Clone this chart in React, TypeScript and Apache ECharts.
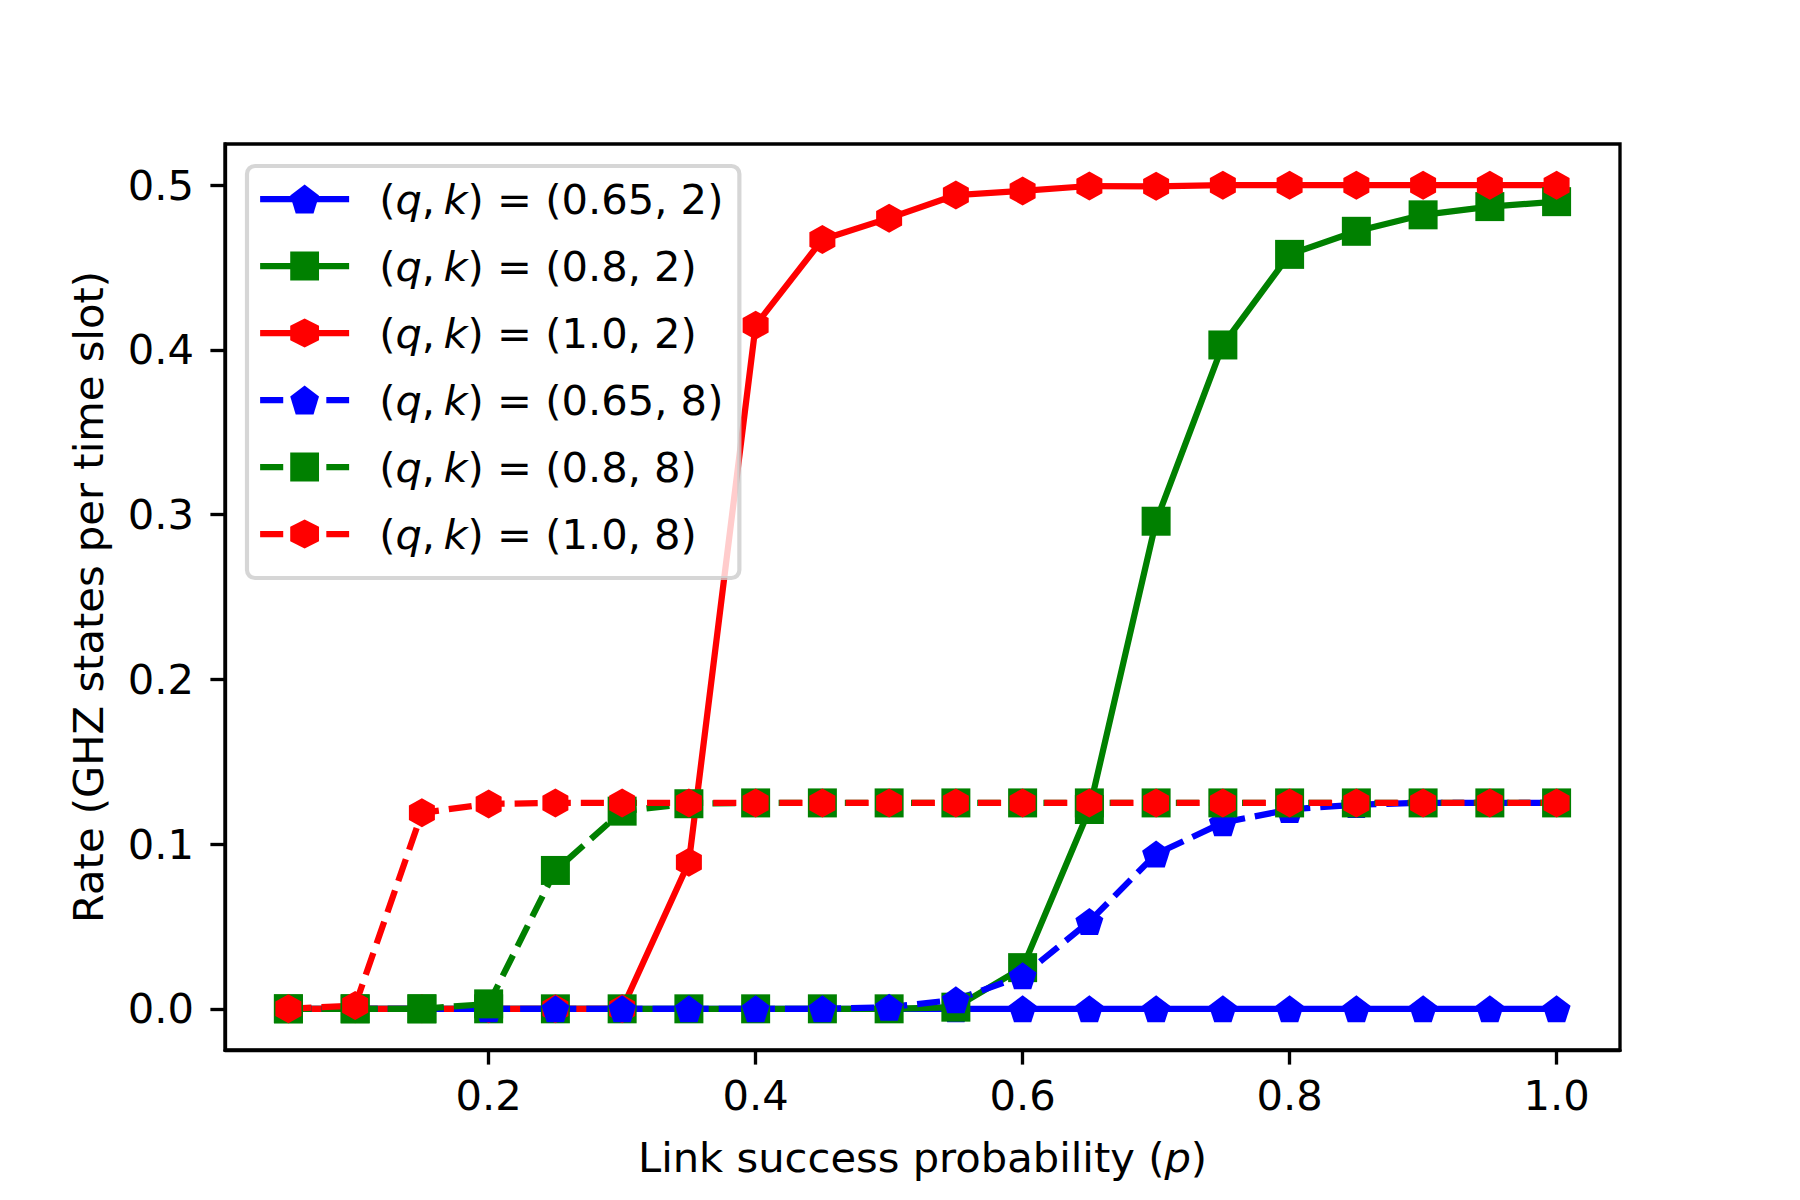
import React, { useEffect, useRef } from "react";
import * as echarts from "echarts";

const P = [0.05, 0.1, 0.15, 0.2, 0.25, 0.3, 0.35, 0.4, 0.45, 0.5, 0.55, 0.6, 0.65, 0.7, 0.75, 0.8, 0.85, 0.9, 0.95, 1.0];
const BLUE_K2 = [0, 0, 0, 0, 0, 0, 0, 0, 0, 0, 0, 0, 0, 0, 0, 0, 0, 0, 0, 0];
const GREEN_K2 = [0, 0, 0, 0, 0, 0, 0, 0, 0, 0, 0.001, 0.025, 0.121, 0.296, 0.403, 0.458, 0.472, 0.482, 0.487, 0.49];
const RED_K2 = [0, 0, 0, 0, 0, 0, 0.089, 0.415, 0.467, 0.48, 0.494, 0.4965, 0.4995, 0.4993, 0.5, 0.5, 0.5, 0.5, 0.5, 0.5];
const BLUE_K8 = [0, 0, 0, 0, 0, 0, 0, 0, 0, 0.001, 0.0055, 0.02, 0.053, 0.094, 0.113, 0.121, 0.124, 0.125, 0.125, 0.125];
const GREEN_K8 = [0, 0, 0, 0.003, 0.084, 0.12, 0.1245, 0.125, 0.125, 0.125, 0.125, 0.125, 0.125, 0.125, 0.125, 0.125, 0.125, 0.125, 0.125, 0.125];
const RED_K8 = [0, 0.002, 0.119, 0.1244, 0.125, 0.125, 0.125, 0.125, 0.125, 0.125, 0.125, 0.125, 0.125, 0.125, 0.125, 0.125, 0.125, 0.125, 0.125, 0.125];

const NAMES = ["(q, k) = (0.65, 2)", "(q, k) = (0.8, 2)", "(q, k) = (1.0, 2)", "(q, k) = (0.65, 8)", "(q, k) = (0.8, 8)", "(q, k) = (1.0, 8)"];
const X_TICKS = [0.2, 0.4, 0.6, 0.8, 1.0];
const Y_TICKS = [0, 0.1, 0.2, 0.3, 0.4, 0.5];

const PENTAGON = "path://M0,-1L-0.951,-0.309L-0.588,0.809L0.588,0.809L0.951,-0.309Z";
const HEXAGON = "path://M0,-1L-0.866,-0.5L-0.866,0.5L0,1L0.866,0.5L0.866,-0.5Z";

const FONT = "DejaVu Sans";
const FS = 41.67;
const LW = 6.25;
const DASH = [23.1, 10];

export default function App() {
  const ref = useRef<HTMLDivElement>(null);
  useEffect(() => {
    if (!ref.current) return;
    const chart = echarts.init(ref.current, null, { renderer: "svg" });
    const mk = (name: string, ys: number[], color: string, symbol: string, size: any, dashed: boolean) => ({
      name,
      type: "line",
      data: P.map((x, i) => [x, ys[i]]),
      symbol,
      symbolSize: size,
      showSymbol: true,
      lineStyle: { color, width: LW, type: dashed ? DASH : "solid", cap: "butt", join: "round" },
      itemStyle: { color },
      emphasis: { disabled: true },
    });
    const series = [
      mk(NAMES[0], BLUE_K2, "#0000ff", PENTAGON, [28, 27], false),
      mk(NAMES[1], GREEN_K2, "#008000", "rect", 29, false),
      mk(NAMES[2], RED_K2, "#ff0000", HEXAGON, [26, 29], false),
      mk(NAMES[3], BLUE_K8, "#0000ff", PENTAGON, [28, 27], true),
      mk(NAMES[4], GREEN_K8, "#008000", "rect", 29, true),
      mk(NAMES[5], RED_K8, "#ff0000", HEXAGON, [26, 29], true),
    ];
    const axisCommon = {
      axisLine: { show: true, onZero: false, lineStyle: { color: "#000", width: 3.33 } },
      axisTick: { show: true, inside: false, length: 14.6, lineStyle: { color: "#000", width: 3.33 } },
      splitLine: { show: false },
    };
    chart.setOption({
      animation: false,
      backgroundColor: "#ffffff",
      textStyle: { fontFamily: FONT, color: "#000" },
      grid: { left: 225, top: 144, width: 1395, height: 906, show: true, borderColor: "#000", borderWidth: 3.33, containLabel: false },
      legend: {
        orient: "vertical",
        left: 247,
        top: 166,
        padding: [12, 16, 23, 10],
        itemWidth: 89,
        itemHeight: 36,
        itemGap: 25,
        backgroundColor: "rgba(255,255,255,0.8)",
        borderColor: "rgba(204,204,204,0.8)",
        borderWidth: 4.17,
        borderRadius: 8,
        lineStyle: { width: LW },
        selectedMode: false,
        data: NAMES,
        formatter: (n: string) => n.replace("(q, k)", "({i|q},\u2009{i|k})"),
        textStyle: {
          fontFamily: FONT,
          fontSize: FS,
          color: "#000",
          lineHeight: 36,
          padding: [0, 0, 0, 25],
          rich: { i: { fontFamily: FONT, fontSize: FS, fontStyle: "italic", color: "#000", lineHeight: 36 } },
        },
      },
      xAxis: {
        type: "value",
        min: 0.0025,
        max: 1.0475,
        ...axisCommon,
        axisTick: { ...axisCommon.axisTick, customValues: X_TICKS },
        axisLabel: { customValues: X_TICKS, formatter: (v: number) => v.toFixed(1), fontFamily: FONT, fontSize: FS, color: "#000", margin: 24 },
        name: "Link success probability ({i|p})",
        nameLocation: "middle",
        nameGap: 86,
        nameTextStyle: {
          fontFamily: FONT,
          fontSize: FS,
          color: "#000",
          rich: { i: { fontFamily: FONT, fontSize: FS, fontStyle: "italic", color: "#000" } },
        },
      },
      yAxis: {
        type: "value",
        min: -0.025,
        max: 0.525,
        ...axisCommon,
        axisTick: { ...axisCommon.axisTick, customValues: Y_TICKS },
        axisLabel: { customValues: Y_TICKS, formatter: (v: number) => v.toFixed(1), fontFamily: FONT, fontSize: FS, color: "#000", margin: 31 },
        name: "Rate (GHZ states per time slot)",
        nameLocation: "middle",
        nameRotate: 90,
        nameGap: 116,
        nameTextStyle: { fontFamily: FONT, fontSize: FS, color: "#000" },
      },
      series,
    });
    return () => chart.dispose();
  }, []);
  return <div ref={ref} style={{ position: "absolute", left: 0, top: 0, width: 1800, height: 1200, background: "#fff" }} />;
}
